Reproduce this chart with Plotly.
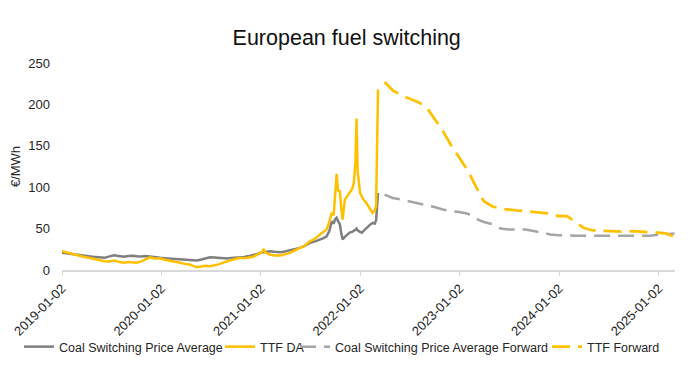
import plotly.graph_objects as go

# ---- historical data ----
hist_dates = [
    "2019-01-02", "2019-01-20", "2019-02-05", "2019-02-20", "2019-03-10", "2019-03-25",
    "2019-04-10", "2019-04-25", "2019-05-10", "2019-05-25", "2019-06-07", "2019-06-22",
    "2019-07-13", "2019-07-28", "2019-08-18", "2019-09-02", "2019-09-18", "2019-10-04",
    "2019-10-20", "2019-11-05", "2019-11-21", "2019-12-08", "2019-12-28",
    "2020-01-15", "2020-02-01", "2020-02-18", "2020-03-11", "2020-03-28", "2020-04-14",
    "2020-04-28", "2020-05-11", "2020-05-28", "2020-06-12", "2020-06-29", "2020-07-15",
    "2020-07-30", "2020-08-14", "2020-08-30", "2020-09-15", "2020-10-01", "2020-10-17",
    "2020-11-02", "2020-11-18", "2020-12-04", "2020-12-18", "2020-12-29", "2021-01-06",
    "2021-01-11", "2021-01-18", "2021-02-03", "2021-02-20", "2021-03-14", "2021-03-30",
    "2021-04-19", "2021-05-05", "2021-05-25", "2021-06-12", "2021-07-01", "2021-07-20",
    "2021-08-07", "2021-08-20", "2021-08-31", "2021-09-10", "2021-09-19", "2021-09-26",
    "2021-10-01", "2021-10-07", "2021-10-12", "2021-10-19", "2021-10-24", "2021-10-29",
    "2021-11-06", "2021-11-15", "2021-11-25", "2021-12-03", "2021-12-09", "2021-12-15",
    "2021-12-19", "2021-12-23", "2022-01-01", "2022-01-08", "2022-01-13", "2022-01-22",
    "2022-01-31", "2022-02-08", "2022-02-16", "2022-02-24", "2022-03-01", "2022-03-04",
    "2022-03-08",
]
coal_hist = [
    20.7, 19.8, 19.0, 18.7, 17.8, 17.2,
    16.6, 16.0, 15.6, 15.2, 14.7, 16.2,
    17.9, 17.0, 15.9, 16.8, 17.2, 16.6,
    16.2, 16.8, 15.9, 15.0, 14.7,
    14.2, 13.8, 13.4, 12.7, 12.3, 12.0,
    11.8, 11.4, 12.6, 14.0, 15.4, 15.0,
    14.4, 14.2, 13.9, 14.6, 15.0, 15.0,
    15.8, 16.8, 17.9, 19.2, 20.7, 21.2,
    21.8, 21.5, 22.7, 22.0, 21.5, 22.4,
    23.9, 25.2, 26.7, 29.0, 32.8, 34.5,
    36.7, 38.5, 40.7, 47.0, 58.8, 56.0,
    61.0, 63.0, 59.0, 55.0, 44.0, 37.0,
    40.0, 43.0, 45.5, 46.0, 47.0, 48.5,
    50.0, 48.0, 46.0, 45.0, 47.0, 50.0,
    53.0, 55.0, 57.0, 56.0, 60.0, 72.0,
    93.0,
]
ttf_hist = [
    22.7, 21.0, 19.5, 17.9, 16.5, 15.6,
    14.7, 13.5, 12.6, 11.6, 10.6, 10.2,
    11.4, 10.0, 8.7, 9.6, 9.2, 8.7,
    10.5, 12.8, 15.4, 14.0, 13.9,
    12.4, 11.0, 10.0, 8.7, 7.4, 6.6,
    5.0, 3.4, 4.2, 5.0, 4.6, 5.4,
    6.8, 8.6, 10.6, 12.0, 13.2, 14.7,
    14.2, 14.8, 16.0, 18.2, 20.7, 21.5,
    25.5, 21.0, 18.7, 17.6, 17.5, 18.8,
    20.7, 23.5, 26.7, 29.5, 34.7, 38.0,
    42.8, 45.5, 48.8, 58.0, 69.0, 66.0,
    92.0, 116.0, 96.0, 95.0, 75.0, 61.0,
    85.0, 89.0, 93.0, 98.0, 105.0, 130.0,
    183.0, 120.0, 93.0, 88.0, 85.0, 82.0,
    77.0, 74.0, 69.0, 72.0, 77.0, 140.0,
    218.0,
]

# ---- forward curves (monthly) ----
fwd_dates = [
    "2022-04-01", "2022-05-01", "2022-06-01", "2022-07-01", "2022-08-01", "2022-09-01",
    "2022-10-01", "2022-11-01", "2022-12-01", "2023-01-01", "2023-02-01", "2023-03-01",
    "2023-04-01", "2023-05-01", "2023-06-01", "2023-07-01", "2023-08-01", "2023-09-01",
    "2023-10-01", "2023-11-01", "2023-12-01", "2024-01-01", "2024-02-01", "2024-03-01",
    "2024-04-01", "2024-05-01", "2024-06-01", "2024-07-01", "2024-08-01", "2024-09-01",
    "2024-10-01", "2024-11-01", "2024-12-01", "2025-01-01", "2025-02-01", "2025-03-01",
]
coal_fwd = [
    91, 87, 85, 83, 80, 78,
    76, 73, 71, 70, 68, 62,
    58, 55.5, 50, 49, 49, 49,
    47, 45, 43, 42, 41.5, 41.5,
    41.5, 41.5, 41.5, 41.5, 41.5, 41.5,
    41.5, 41.5, 41.5, 42.5, 43.5, 44,
]
ttf_fwd = [
    227, 217, 211, 207, 203, 197,
    182, 168, 151, 135, 120, 102,
    83, 77, 74, 73, 72, 71,
    70, 69, 68, 65, 65, 58,
    51, 48, 47.5, 47.5, 47, 46,
    47, 46.5, 45.5, 45, 44, 40,
]

tick_vals = ["2019-01-02", "2020-01-02", "2021-01-02", "2022-01-02",
             "2023-01-02", "2024-01-02", "2025-01-02"]
tick_text = tick_vals
y_ticks = [0, 50, 100, 150, 200, 250]

FONT = "Liberation Sans, Arial, sans-serif"
TXT = "#262626"
GOLD = "#FFC000"

# the page body adds an 8px offset; the figure is sized to fill the rest
W, H = 692, 372

fig = go.Figure()
fig.add_trace(go.Scatter(x=hist_dates, y=coal_hist, mode="lines",
                         name="Coal Switching Price Average", legend="legend",
                         line=dict(color="#7F7F7F", width=2.5)))
fig.add_trace(go.Scatter(x=hist_dates, y=ttf_hist, mode="lines",
                         name="TTF DA", legend="legend2",
                         line=dict(color=GOLD, width=2.5)))
fig.add_trace(go.Scatter(x=fwd_dates, y=coal_fwd, mode="lines",
                         name="Coal Switching Price Average Forward", legend="legend3",
                         line=dict(color="#A5A5A5", width=2.5, dash="16px,8px")))
fig.add_trace(go.Scatter(x=fwd_dates, y=ttf_fwd, mode="lines",
                         name="TTF Forward", legend="legend4",
                         line=dict(color=GOLD, width=2.75, dash="18px,8px")))

leg_common = dict(orientation="h", xref="container", xanchor="left",
                  yref="container", y=1 - 339 / H, yanchor="middle",
                  font=dict(size=12.5, color=TXT), itemwidth=30,
                  bgcolor="rgba(0,0,0,0)", borderwidth=0)

fig.update_layout(
    width=W, height=H,
    margin=dict(l=54, r=25, t=55, b=109.5, autoexpand=False),
    paper_bgcolor="white", plot_bgcolor="white",
    font=dict(family=FONT, size=13, color=TXT),
    title=dict(text="European fuel switching", font=dict(size=21.5, color="#111111"),
               x=338.7 / W, xref="container", xanchor="center",
               y=1 - 29 / H, yref="container", yanchor="middle"),
    showlegend=True,
    legend=dict(leg_common, x=11 / W),
    legend2=dict(leg_common, x=212 / W),
    legend3=dict(leg_common, x=287 / W),
    legend4=dict(leg_common, x=539 / W),
    xaxis=dict(type="date", range=["2019-01-02", "2025-03-03"],
               tickmode="array", tickvals=tick_vals, ticktext=tick_text,
               tickangle=-45, tickfont=dict(size=13, color=TXT),
               showgrid=False, zeroline=False, automargin=False,
               showline=True, linecolor="#D9D9D9", linewidth=1.5,
               ticks="outside", ticklen=4, tickcolor="#D9D9D9", tickwidth=1),
    yaxis=dict(range=[0, 250], tickmode="array", tickvals=y_ticks,
               tickfont=dict(size=13, color=TXT), automargin=False,
               showgrid=False, zeroline=False, showline=False,
               ticks="", ticklabelstandoff=11,
               title=dict(text="€/MWh", font=dict(size=13, color=TXT), standoff=6)),
)

fig.write_html("out.html")
